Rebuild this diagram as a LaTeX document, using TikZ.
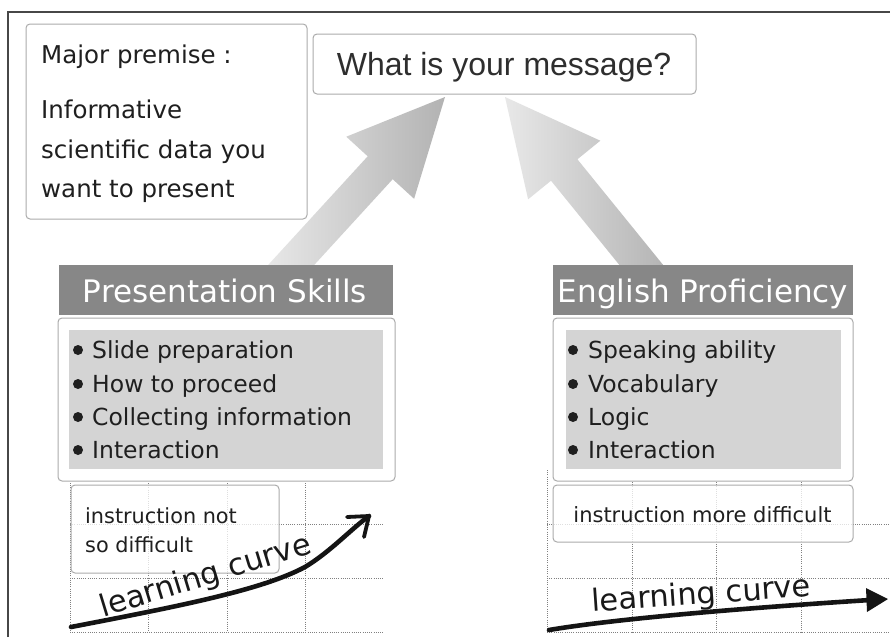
\documentclass[tikz,border=0pt]{standalone}
\usepackage{fontspec}
\newfontfamily\hand{DejaVu Sans}
\newfontfamily\plain{Liberation Sans}
\begin{document}
\begin{tikzpicture}[x=1pt,y=-1pt,
  frameline/.style={line width=1.6pt, draw=black!72},
  card/.style={draw=black!33, line width=1pt, rounded corners=4pt, fill=white, inner sep=0pt},
  header/.style={fill=black!47, inner sep=0pt},
  panel/.style={fill=black!17, inner sep=0pt},
  gridline/.style={draw=black!50, line width=0.7pt, dash pattern=on 1pt off 1.2pt},
  txt/.style={inner sep=0pt, anchor=base west, text=black!88},
  dot/.style={circle, fill=black!88, inner sep=0pt, minimum size=10pt},
  bigarrow/.style={left color=black!9, right color=black!30},
  curve/.style={draw=black!92, line width=4.6pt, line cap=round, line join=round}
]
\useasboundingbox (0,0) rectangle (890,637);
\fill[white] (0,0) rectangle (890,637);

% outer frame (left and top edges only)
\draw[frameline] (8,637) -- (8,12) -- (890,12);

% big arrows pointing at the question box
\shade[bigarrow] (265.1,268.3) -- (290.1,291.3) -- (392.7,179.2) -- (414.1,198.8)
  -- (445,97) -- (346.3,136.7) -- (367.7,156.3) -- cycle;
\shade[bigarrow] (644.3,295.7) -- (670.7,274.3) -- (577.4,159.3) -- (600.3,140.7)
  -- (505,97) -- (528.1,199.3) -- (551,180.7) -- cycle;

% question box
\node[card] (msg) at (504.5,64) [minimum width=383pt, minimum height=60pt] {};
\node[inner sep=0pt, anchor=base, text=black!82, font=\plain\fontsize{32}{38}\selectfont]
  (msgtext) at (504,75) {What is your message?};

% premise box
\node[card] (premise) at (166.5,121.5) [minimum width=281pt, minimum height=195pt] {};
\begin{scope}[every node/.style={txt, font=\hand\fontsize{24.5}{30}\selectfont}]
  \node (pm1) at (41,63) {Major premise :};
  \node (pm2) at (41,118) {Informative};
  \node (pm3) at (41,158) {scientific data you};
  \node (pm4) at (41,197) {want to present};
\end{scope}

% dotted grids behind the learning curves
\foreach \gx in {70,148,227,305} \draw[gridline] (\gx,483) -- (\gx,632);
\foreach \gy in {524,578,632} \draw[gridline] (70,\gy) -- (383,\gy);
\draw[gridline] (547,470) -- (547,632);
\foreach \gx in {632,716,801} \draw[gridline] (\gx,482) -- (\gx,632);
\foreach \gy in {524,578,632} \draw[gridline] (547,\gy) -- (890,\gy);

% left column
\node[card] (lbody) at (226.5,399.5) [minimum width=337pt, minimum height=163pt] {};
\node[panel] (lpanel) at (226,399.5) [minimum width=314pt, minimum height=139pt] {};
\node[header] (lhead) at (226,290) [minimum width=334pt, minimum height=50pt] {};
\node[inner sep=0pt, anchor=base, text=white, font=\hand\fontsize{31}{36}\selectfont]
  (lheadtext) at (225,302) {Presentation Skills};
\begin{scope}[every node/.style={txt, font=\hand\fontsize{23.5}{28}\selectfont}]
  \node (l1) at (92,358) {Slide preparation};
  \node (l2) at (92,392) {How to proceed};
  \node (l3) at (92,425) {Collecting information};
  \node (l4) at (92,458) {Interaction};
\end{scope}
\foreach \by [count=\i] in {350,384,417,450} \node[dot] (lb\i) at (78,\by) {};
\node[card, fill opacity=0.75, draw opacity=1] (linstr) at (175,529)
  [minimum width=208pt, minimum height=88pt] {};
\begin{scope}[every node/.style={txt, font=\hand\fontsize{20.8}{25}\selectfont}]
  \node (li1) at (85,523) {instruction not};
  \node (li2) at (85,552) {so difficult};
\end{scope}

% right column
\node[card] (rbody) at (703,399.5) [minimum width=300pt, minimum height=163pt] {};
\node[panel] (rpanel) at (703.5,399.5) [minimum width=275pt, minimum height=139pt] {};
\node[header] (rhead) at (703,290) [minimum width=300pt, minimum height=50pt] {};
\node[inner sep=0pt, anchor=base, text=white, font=\hand\fontsize{31}{36}\selectfont]
  (rheadtext) at (703,302) {English Proficiency};
\begin{scope}[every node/.style={txt, font=\hand\fontsize{23.5}{28}\selectfont}]
  \node (r1) at (588,358) {Speaking ability};
  \node (r2) at (588,392) {Vocabulary};
  \node (r3) at (588,425) {Logic};
  \node (r4) at (588,458) {Interaction};
\end{scope}
\foreach \by [count=\i] in {350,384,417,450} \node[dot] (rb\i) at (573,\by) {};
\node[card, fill opacity=0.75, draw opacity=1] (rinstr) at (703,513.5)
  [minimum width=300pt, minimum height=57pt] {};
\node[inner sep=0pt, anchor=base, text=black!88, font=\hand\fontsize{21}{25}\selectfont]
  (ri1) at (702.5,522) {instruction more difficult};

% learning curves
\coordinate (lcs) at (71,627);
\coordinate (lcm) at (305,567);
\coordinate (lce) at (369,516);
\draw[curve] (lcs) .. controls (180,606) and (262,590) .. (lcm)
  .. controls (330,552) and (350,530) .. (lce);
\draw[curve, line width=3.8pt] (347,517) -- (lce) -- (364,537);
\node[inner sep=0pt, anchor=base, rotate=17, text=black!90, font=\hand\fontsize{30.5}{36}\selectfont]
  (lct) at (208,585) {learning curve};

\coordinate (rcs) at (549,630);
\coordinate (rce) at (870,600);
\draw[curve] (rcs) .. controls (620,618) and (760,607) .. (rce);
\fill[black!92] (866,588) -- (888,599) -- (867,612) -- cycle;
\node[inner sep=0pt, anchor=base, rotate=4, text=black!90, font=\hand\fontsize{30.5}{36}\selectfont]
  (rct) at (702,604) {learning curve};
\end{tikzpicture}
\end{document}
